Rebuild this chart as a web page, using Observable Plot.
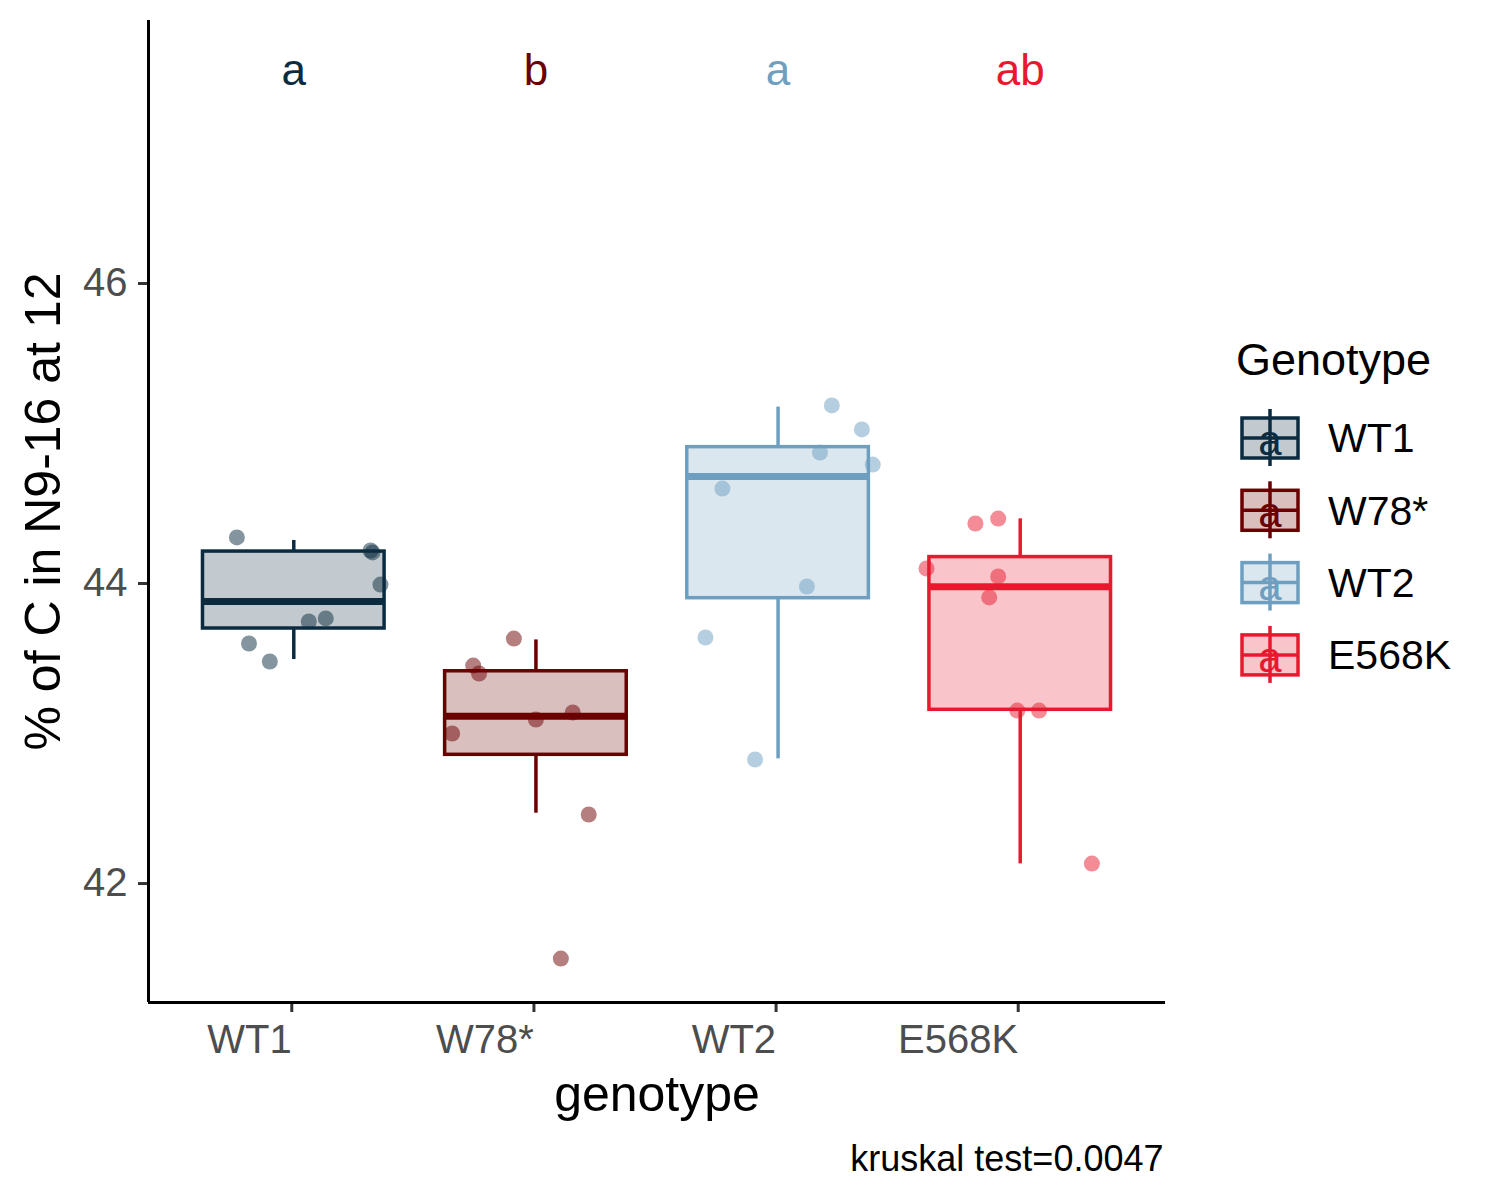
<!DOCTYPE html>
<html>
<head>
<meta charset="utf-8">
<script src="https://cdn.jsdelivr.net/npm/d3@7"></script>
<script src="https://cdn.jsdelivr.net/npm/@observablehq/plot@0.6"></script>
<style>
  html, body { margin: 0; padding: 0; background: #fff; }
  #wrap { position: relative; width: 1500px; height: 1200px; font-family: "Liberation Sans", Arial, Helvetica, sans-serif; }
  #wrap > svg { position: absolute; }
  #wrap text { font-family: "Liberation Sans", Arial, Helvetica, sans-serif; }
</style>
</head>
<body>
<div id="wrap"></div>
<script>
// ---- data ----
const genotypes = ["WT1", "W78*", "WT2", "E568K"];
const colors = ["#0B2B40", "#6B0000", "#6E9FC1", "#E8192F"];
const letters = ["a", "b", "a", "ab"];
const letterY = 47.42;
const yTicks = [42, 44, 46];

// box statistics
const whiskLo = [43.493, 42.469, 42.831, 42.131];
const q1      = [43.700, 42.858, 43.902, 43.158];
const median  = [43.880, 43.115, 44.713, 43.978];
const q3      = [44.213, 43.415, 44.909, 44.176];
const whiskHi = [44.287, 43.624, 45.176, 44.431];

// jittered observations (value, horizontal jitter in category units)
const valsWT1   = [44.307, 44.207, 44.220, 43.993, 43.747, 43.767, 43.600, 43.480];
const jitWT1    = [-0.235, 0.325, 0.317, 0.358, 0.062, 0.132, -0.185, -0.099];
const valsW78   = [43.633, 43.453, 43.400, 43.000, 43.093, 43.140, 42.460, 41.500];
const jitW78    = [-0.091, -0.259, -0.235, -0.346, 0.000, 0.152, 0.218, 0.103];
const valsWT2   = [45.187, 45.027, 44.873, 44.793, 44.633, 43.980, 43.640, 42.827];
const jitWT2    = [0.222, 0.346, 0.173, 0.391, -0.230, 0.119, -0.300, -0.095];
const valsE568K = [44.400, 44.433, 44.100, 44.047, 43.907, 43.153, 43.153, 42.133];
const jitE568K  = [-0.185, -0.091, -0.387, -0.091, -0.128, -0.012, 0.078, 0.296];

const caption = "kruskal test=0.0047";

// ---- tables ----
const boxes = genotypes.map((g, i) => ({
  g, i: i + 1, color: colors[i], lo: whiskLo[i], q1: q1[i], med: median[i], q3: q3[i], hi: whiskHi[i], letter: letters[i]
}));
const pointSets = [[valsWT1, jitWT1], [valsW78, jitW78], [valsWT2, jitWT2], [valsE568K, jitE568K]];
const points = pointSets.flatMap(([vals, jit], i) => vals.map((v, k) => ({ i: i + 1, v, j: jit[k], color: colors[i] })));

const halfWidth = 0.375;
const FONT = '"Liberation Sans", Arial, Helvetica, sans-serif';

const chart = Plot.plot({
  width: 1500,
  height: 1200,
  marginLeft: 148,
  marginRight: 335,
  marginTop: 20,
  marginBottom: 198,
  style: { fontFamily: FONT, background: "white", overflow: "visible" },
  x: { type: "linear", domain: [0.4, 4.6] },
  y: { domain: [41.207, 47.753] },
  marks: [
    // axes
    Plot.axisX({
      ticks: [1, 2, 3, 4], tickFormat: d => genotypes[d - 1],
      tickSize: 10, tickPadding: 12, fontSize: 40, fill: "#4D4D4D",
      stroke: "#333", strokeWidth: 3, textAnchor: "end", dx: -2, label: null
    }),
    Plot.axisY({
      ticks: yTicks, tickFormat: d => String(d), tickSize: 10, tickPadding: 11, fontSize: 40, fill: "#4D4D4D",
      stroke: "#333", strokeWidth: 3, label: null
    }),
    Plot.ruleX([0.4], { stroke: "black", strokeWidth: 3 }),
    Plot.ruleY([41.207], { stroke: "black", strokeWidth: 3 }),
    // whiskers
    Plot.ruleX(boxes, { x: "i", y1: "q3", y2: "hi", stroke: "color", strokeWidth: 3.5 }),
    Plot.ruleX(boxes, { x: "i", y1: "lo", y2: "q1", stroke: "color", strokeWidth: 3.5 }),
    // boxes
    Plot.rect(boxes, {
      x1: d => d.i - halfWidth, x2: d => d.i + halfWidth, y1: "q1", y2: "q3",
      fill: "color", fillOpacity: 0.25, stroke: "color", strokeWidth: 3.5
    }),
    Plot.ruleY(boxes, {
      y: "med", x1: d => d.i - halfWidth, x2: d => d.i + halfWidth, stroke: "color", strokeWidth: 7
    }),
    // jittered points
    Plot.dot(points, { x: d => d.i + d.j, y: "v", r: 8, fill: "color", fillOpacity: 0.5, stroke: "none" }),
    // letters
    Plot.text(boxes, { x: "i", y: () => letterY, text: "letter", fill: "color", fontSize: 44, lineAnchor: "middle" }),
    // axis titles
    Plot.text(["genotype"], { frameAnchor: "bottom", textAnchor: "middle", dy: 92, fontSize: 50, fill: "black", lineAnchor: "middle" }),
    Plot.text(["% of C in N9-16 at 12"], { frameAnchor: "left", textAnchor: "middle", dx: -105, rotate: -90, fontSize: 50, fill: "black", lineAnchor: "middle" }),
    // caption
    Plot.text([caption], { frameAnchor: "bottom-right", dx: -2, dy: 157, textAnchor: "end", fontSize: 36, fill: "black", lineAnchor: "middle" })
  ]
});
chart.style.left = "0px";
chart.style.top = "0px";
const wrap = document.getElementById("wrap");
wrap.appendChild(chart);

// ---- legend ----
const leg = d3.create("svg")
  .attr("width", 275).attr("height", 370)
  .style("left", "1225px").style("top", "330px")
  .attr("font-family", FONT);
leg.append("text").attr("x", 11).attr("y", 45).attr("font-size", 45).attr("fill", "black").text("Genotype");
genotypes.forEach((g, i) => {
  const cy = 108 + 72.3 * i;
  const k = leg.append("g");
  k.append("line").attr("x1", 45).attr("x2", 45).attr("y1", cy - 29).attr("y2", cy + 28)
    .attr("stroke", colors[i]).attr("stroke-width", 3.5);
  k.append("rect").attr("x", 17).attr("y", cy - 20).attr("width", 56).attr("height", 40)
    .attr("fill", colors[i]).attr("fill-opacity", 0.25).attr("stroke", colors[i]).attr("stroke-width", 3.5);
  k.append("line").attr("x1", 17).attr("x2", 73).attr("y1", cy).attr("y2", cy)
    .attr("stroke", colors[i]).attr("stroke-width", 3.5);
  k.append("text").attr("x", 45).attr("y", cy + 17).attr("text-anchor", "middle")
    .attr("font-family", FONT).attr("font-size", 42).attr("fill", colors[i]).text("a");
  leg.append("text").attr("x", 103).attr("y", cy).attr("dy", "0.35em")
    .attr("font-size", 41).attr("fill", "black").text(g);
});
wrap.appendChild(leg.node());
</script>
</body>
</html>
